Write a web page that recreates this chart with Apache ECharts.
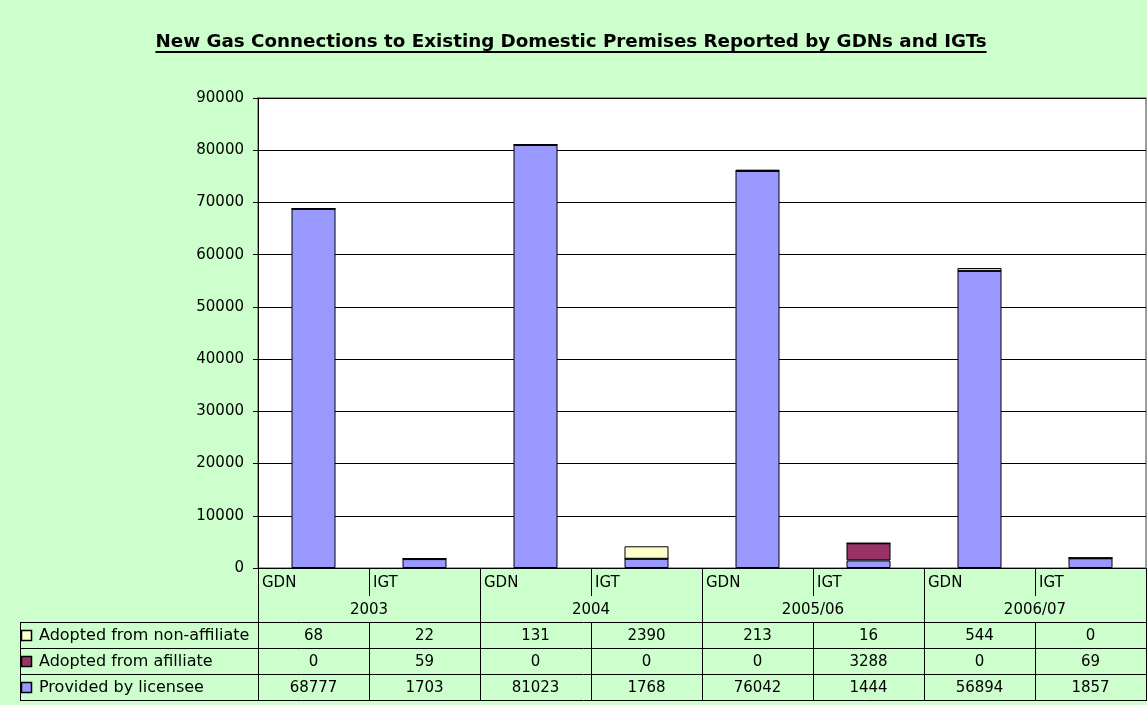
<!DOCTYPE html>
<html>
<head>
<meta charset="utf-8">
<script src="https://cdn.jsdelivr.net/npm/echarts@6/dist/echarts.min.js"></script>
<style>
  html, body { margin: 0; padding: 0; background: #ccffcc; }
  #chart { width: 1147px; height: 705px; }
</style>
</head>
<body>
<div id="chart"></div>
<script>
// categories and values
const categories = ["GDN", "IGT", "GDN", "IGT", "GDN", "IGT", "GDN", "IGT"];
const years = ["2003", "2004", "2005/06", "2006/07"];
const nonAffiliate = [68, 22, 131, 2390, 213, 16, 544, 0];
const affiliate = [0, 59, 0, 0, 0, 3288, 0, 69];
const licensee = [68777, 1703, 81023, 1768, 76042, 1444, 56894, 1857];
const seriesNames = ["Adopted from non-affiliate", "Adopted from afilliate", "Provided by licensee"];

const FONT = "DejaVu Sans";
const colors = { lic: "#9999ff", aff: "#993366", non: "#ffffcc" };

// layout of plot and table
const L = 258, R = 1146, T = 98, B = 568;
const colW = (R - L) / categories.length;
const rowTop = 622, rowH = 26, tblLeft = 20;

var myChart = echarts.init(document.getElementById("chart"));

function measure(text, font) {
  const c = document.createElement("canvas").getContext("2d");
  c.font = font;
  return c.measureText(text).width;
}

const title = "New Gas Connections to Existing Domestic Premises Reported by GDNs and IGTs";
const titleFont = "bold 18.3px '" + FONT + "'";
const titleW = measure(title, titleFont);

const g = [];
const line = (x1, y1, x2, y2) => g.push({
  type: "line", silent: true,
  shape: { x1, y1, x2, y2 },
  style: { stroke: "#000", lineWidth: 1 }
});
const txt = (x, y, text, align, size) => g.push({
  type: "text", silent: true, x, y,
  style: { text, fill: "#000", font: (size || 15) + "px '" + FONT + "'", align: align || "center", verticalAlign: "middle" }
});

// title with underline
g.push({
  type: "text", silent: true, x: 571, y: 42,
  style: { text: title, fill: "#000", font: titleFont, align: "center", verticalAlign: "middle" }
});
g.push({
  type: "line", silent: true,
  shape: { x1: 571 - titleW / 2, y1: 52, x2: 571 + titleW / 2, y2: 52 },
  style: { stroke: "#000", lineWidth: 2 }
});

// table grid
line(L + 0.5, B, L + 0.5, rowTop + 3 * rowH);
line(R + 0.5, B, R + 0.5, rowTop + 3 * rowH);
line(tblLeft + 0.5, rowTop, tblLeft + 0.5, rowTop + 3 * rowH);
for (let i = 1; i < categories.length; i++) {
  const x = Math.round(L + i * colW) + 0.5;
  if (i % 2 === 0) {
    line(x, B, x, rowTop + 3 * rowH);
  } else {
    line(x, B, x, 596);
    line(x, rowTop, x, rowTop + 3 * rowH);
  }
}
for (let r = 0; r <= 3; r++) {
  line(tblLeft, rowTop + r * rowH + 0.5, R + 1, rowTop + r * rowH + 0.5);
}

// category and year labels
categories.forEach((c, i) => txt(L + i * colW + 4, 583, c, "left"));
years.forEach((y, j) => txt(L + (2 * j + 1) * colW, 610, y));

// data rows
const rows = [
  { name: seriesNames[0], data: nonAffiliate, color: colors.non },
  { name: seriesNames[1], data: affiliate, color: colors.aff },
  { name: seriesNames[2], data: licensee, color: colors.lic }
];
rows.forEach((row, r) => {
  const cy = rowTop + r * rowH + rowH / 2 + 1;
  g.push({
    type: "rect", silent: true,
    shape: { x: 21.5, y: cy - 5.5, width: 10, height: 10 },
    style: { fill: row.color, stroke: "#000", lineWidth: 1.5 }
  });
  txt(39, cy, row.name, "left", 16);
  row.data.forEach((v, i) => txt(L + (i + 0.5) * colW, cy, String(v)));
});

myChart.setOption({
  backgroundColor: "#ccffcc",
  animation: false,
  grid: {
    left: L, top: T, width: R - L, height: B - T,
    show: true, backgroundColor: "#fff", borderColor: "#808080", borderWidth: 1.5
  },
  xAxis: {
    type: "category",
    data: categories,
    axisLine: { lineStyle: { color: "#000" } },
    axisTick: { show: false },
    axisLabel: { show: false }
  },
  yAxis: {
    type: "value",
    min: 0, max: 90000, interval: 10000,
    axisLine: { show: true, lineStyle: { color: "#000" } },
    axisTick: { show: true, length: 5, lineStyle: { color: "#000" } },
    axisLabel: { fontFamily: FONT, fontSize: 15, color: "#000", margin: 14, formatter: (v) => String(v) },
    splitLine: { lineStyle: { color: "#000", width: 1 } }
  },
  series: [
    { name: seriesNames[2], type: "bar", stack: "all", data: licensee, barWidth: 44,
      itemStyle: { color: colors.lic, borderColor: "#000", borderWidth: 1 } },
    { name: seriesNames[1], type: "bar", stack: "all", data: affiliate, barWidth: 44,
      itemStyle: { color: colors.aff, borderColor: "#000", borderWidth: 1 } },
    { name: seriesNames[0], type: "bar", stack: "all", data: nonAffiliate, barWidth: 44,
      itemStyle: { color: colors.non, borderColor: "#000", borderWidth: 1 } }
  ],
  graphic: g
});
</script>
</body>
</html>
